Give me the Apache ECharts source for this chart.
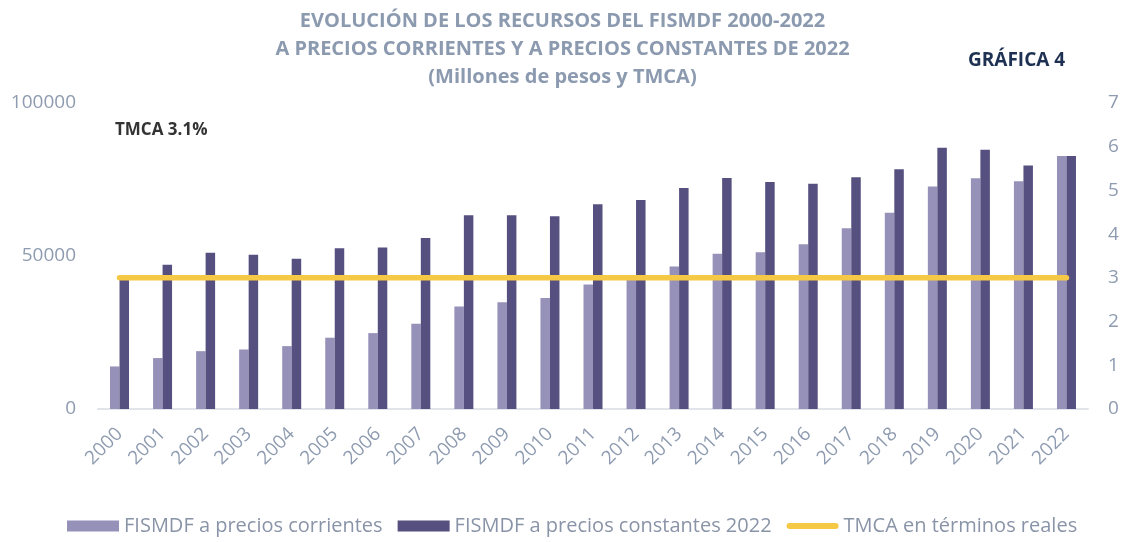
<!DOCTYPE html>
<html>
<head>
<meta charset="utf-8">
<script src="https://cdn.jsdelivr.net/npm/echarts@6/dist/echarts.min.js"></script>
<style>
  html, body { margin: 0; padding: 0; background: #fff; }
  #chart { width: 1125px; height: 542px; }
</style>
</head>
<body>
<div id="chart"></div>
<script>
// años
const years = ['2000', '2001', '2002', '2003', '2004', '2005', '2006', '2007', '2008', '2009', '2010', '2011',
  '2012', '2013', '2014', '2015', '2016', '2017', '2018', '2019', '2020', '2021', '2022']
// millones de pesos, precios corrientes
const corrientes = [13900, 16650, 18900, 19450, 20550, 23300, 24800, 27850, 33500, 34900, 36250, 40700,
  42500, 46550, 50700, 51250, 53850, 59100, 64100, 72700, 75400, 74450, 82700]
// millones de pesos, precios constantes 2022
const constantes = [42200, 47100, 51100, 50400, 49100, 52550, 52750, 55900, 63300, 63300, 63000, 66900,
  68300, 72250, 75500, 74200, 73650, 75750, 78350, 85400, 84750, 79550, 82700]
// TMCA en términos reales
const tmca = years.map(() => 3.0)

const labelColor = '#8e9bb0'
const font = '"Open Sans", "DejaVu Sans", sans-serif'

// icono de línea gruesa con extremos redondeados (la caja 52x11 se fija con los M)
const lineIcon = 'path://M0,0 M52,11 M3,2.5 L49,2.5 A3,3 0 0 1 49,8.5 L3,8.5 A3,3 0 0 1 3,2.5 Z'

const chart = echarts.init(document.getElementById('chart'), null, { renderer: 'canvas' })

chart.setOption({
  animation: false,
  textStyle: { fontFamily: font },
  title: {
    text: 'EVOLUCIÓN DE LOS RECURSOS DEL FISMDF 2000-2022\nA PRECIOS CORRIENTES Y A PRECIOS CONSTANTES DE 2022\n(Millones de pesos y TMCA)',
    left: 'center',
    top: 2,
    textStyle: {
      fontFamily: font,
      fontSize: 20,
      fontWeight: 'bold',
      color: '#8c9ab0',
      lineHeight: 28,
      align: 'center'
    }
  },
  graphic: [
    {
      type: 'text',
      left: 968,
      top: 51,
      style: { text: 'GRÁFICA 4', fontFamily: font, fontSize: 19, fontWeight: 'bold', fill: '#1f3152' }
    },
    {
      type: 'text',
      left: 115,
      top: 122,
      style: { text: 'TMCA 3.1%', fontFamily: font, fontSize: 17, fontWeight: 'bold', fill: '#333333' }
    }
  ],
  legend: {
    bottom: 1,
    left: 62,
    itemWidth: 52,
    itemHeight: 11,
    itemGap: 15,
    textStyle: { fontSize: 20, color: '#8a94a8', fontFamily: font },
    data: [
      { name: 'FISMDF a precios corrientes', icon: 'rect' },
      { name: 'FISMDF a precios constantes 2022', icon: 'rect' },
      { name: 'TMCA en términos reales', icon: lineIcon }
    ]
  },
  grid: {
    left: 98,
    right: 37,
    top: 103,
    bottom: 133
  },
  xAxis: {
    type: 'category',
    data: years,
    axisLine: { lineStyle: { color: '#e1e4e9', width: 2 } },
    axisTick: { show: false },
    axisLabel: { rotate: 45, fontSize: 19, color: labelColor, margin: 22 }
  },
  yAxis: [
    {
      type: 'value',
      min: 0,
      max: 100000,
      interval: 50000,
      splitLine: { show: false },
      axisLine: { show: false },
      axisLabel: { fontSize: 19, color: labelColor, margin: 22, formatter: v => String(v) }
    },
    {
      type: 'value',
      min: 0,
      max: 7,
      interval: 1,
      splitLine: { show: false },
      axisLine: { show: false },
      axisLabel: { fontSize: 19, color: labelColor, margin: 20 }
    }
  ],
  series: [
    {
      name: 'FISMDF a precios corrientes',
      type: 'bar',
      data: corrientes,
      barWidth: 9.5,
      barGap: '0%',
      itemStyle: { color: '#9691b9' }
    },
    {
      name: 'FISMDF a precios constantes 2022',
      type: 'bar',
      data: constantes,
      barWidth: 9.5,
      itemStyle: { color: '#55507f' }
    },
    {
      name: 'TMCA en términos reales',
      type: 'line',
      yAxisIndex: 1,
      data: tmca,
      symbol: 'none',
      z: 5,
      lineStyle: { color: '#f5c945', width: 5.5, cap: 'round' },
      itemStyle: { color: '#f5c945' }
    }
  ]
})
</script>
</body>
</html>
